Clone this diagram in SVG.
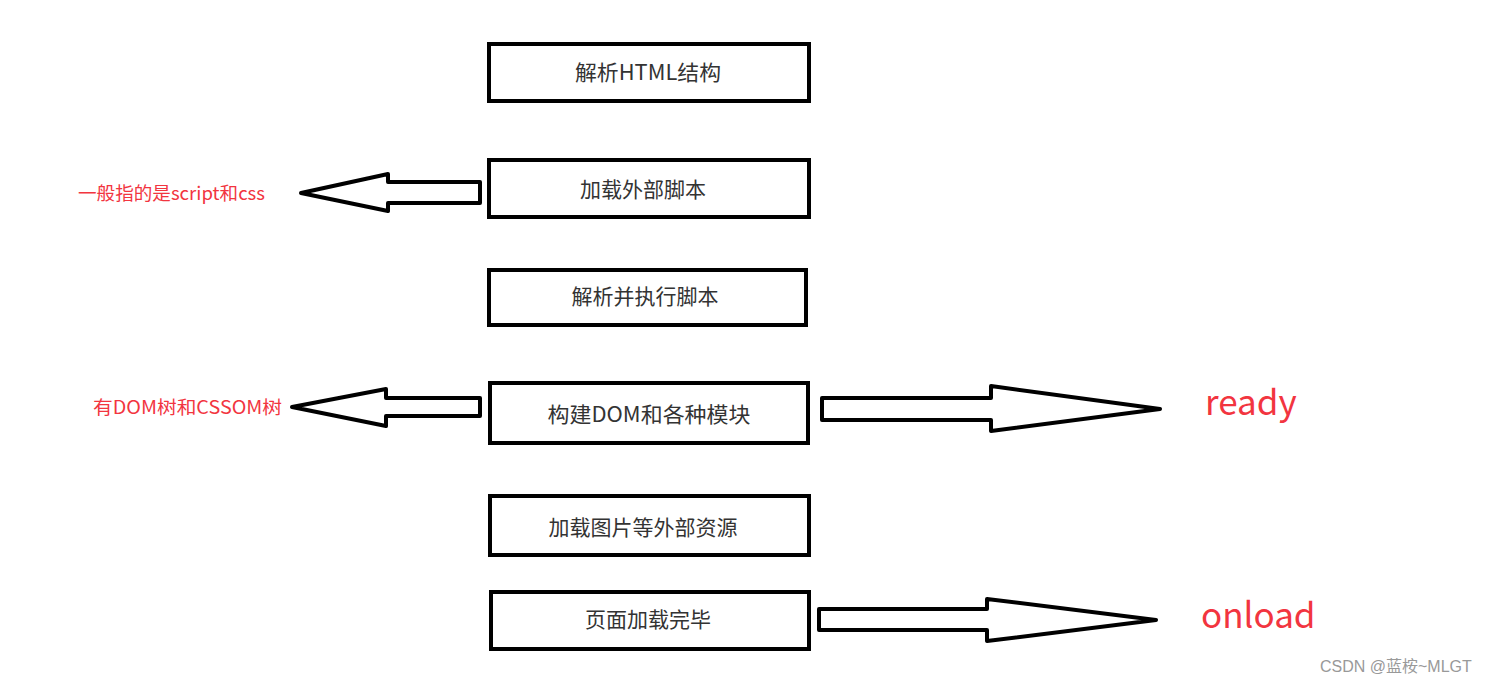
<svg xmlns="http://www.w3.org/2000/svg" width="1485" height="685" viewBox="0 0 1485 685">
<style>
.box{fill:#fff;stroke:#000;stroke-width:4}
.arr{fill:#fff;stroke:#000;stroke-width:4;stroke-linejoin:round}
.t{font-family:"Noto Sans CJK SC","Microsoft YaHei",sans-serif;font-size:21px;fill:#333;text-anchor:middle}
.red{font-family:"Noto Sans CJK SC",sans-serif;fill:#f2353f}
.wm{font-family:"Liberation Sans","Noto Sans CJK SC",sans-serif;font-size:16px;fill:#999}
</style>
<rect width="1485" height="685" fill="#fff"/>
<g id="n1"><rect class="box" x="489" y="44" width="320" height="57"/><text class="t" x="648" y="80" textLength="146" lengthAdjust="spacingAndGlyphs">解析HTML结构</text></g>
<g id="n2"><rect class="box" x="489" y="160" width="320" height="57"/><text class="t" x="643" y="197">加载外部脚本</text></g>
<g id="n3"><rect class="box" x="489" y="270" width="317" height="55"/><text class="t" x="645" y="304">解析并执行脚本</text></g>
<g id="n4"><rect class="box" x="490" y="383" width="318" height="60"/><text class="t" x="649" y="422" textLength="203" lengthAdjust="spacingAndGlyphs">构建DOM和各种模块</text></g>
<g id="n5"><rect class="box" x="490" y="496" width="319" height="59"/><text class="t" x="643" y="535">加载图片等外部资源</text></g>
<g id="n6"><rect class="box" x="491" y="592" width="318" height="57"/><text class="t" x="648" y="627">页面加载完毕</text></g>
<g id="connectors">
<polygon class="arr" points="480,182 388,182 388,174 301,193 388,211 388,203 480,203"/>
<polygon class="arr" points="480,398 386,398 386,389 292,407 386,426 386,416 480,416"/>
<polygon class="arr" points="822,398 991,398 991,386 1160,409 991,431 991,420 822,420"/>
<polygon class="arr" points="819,609 987,609 987,599 1156,620 987,641 987,630 819,630"/>
</g>
<g id="labels">
<text class="red" x="78" y="200" font-size="18" textLength="187" lengthAdjust="spacingAndGlyphs">一般指的是script和css</text>
<text class="red" x="93" y="414" font-size="18" textLength="189" lengthAdjust="spacingAndGlyphs">有DOM树和CSSOM树</text>
<text class="red" x="1205" y="415" font-size="35">ready</text>
<text class="red" x="1201" y="628" font-size="35">onload</text>
<text class="wm" x="1320" y="672">CSDN @蓝桉~MLGT</text>
</g>
</svg>
